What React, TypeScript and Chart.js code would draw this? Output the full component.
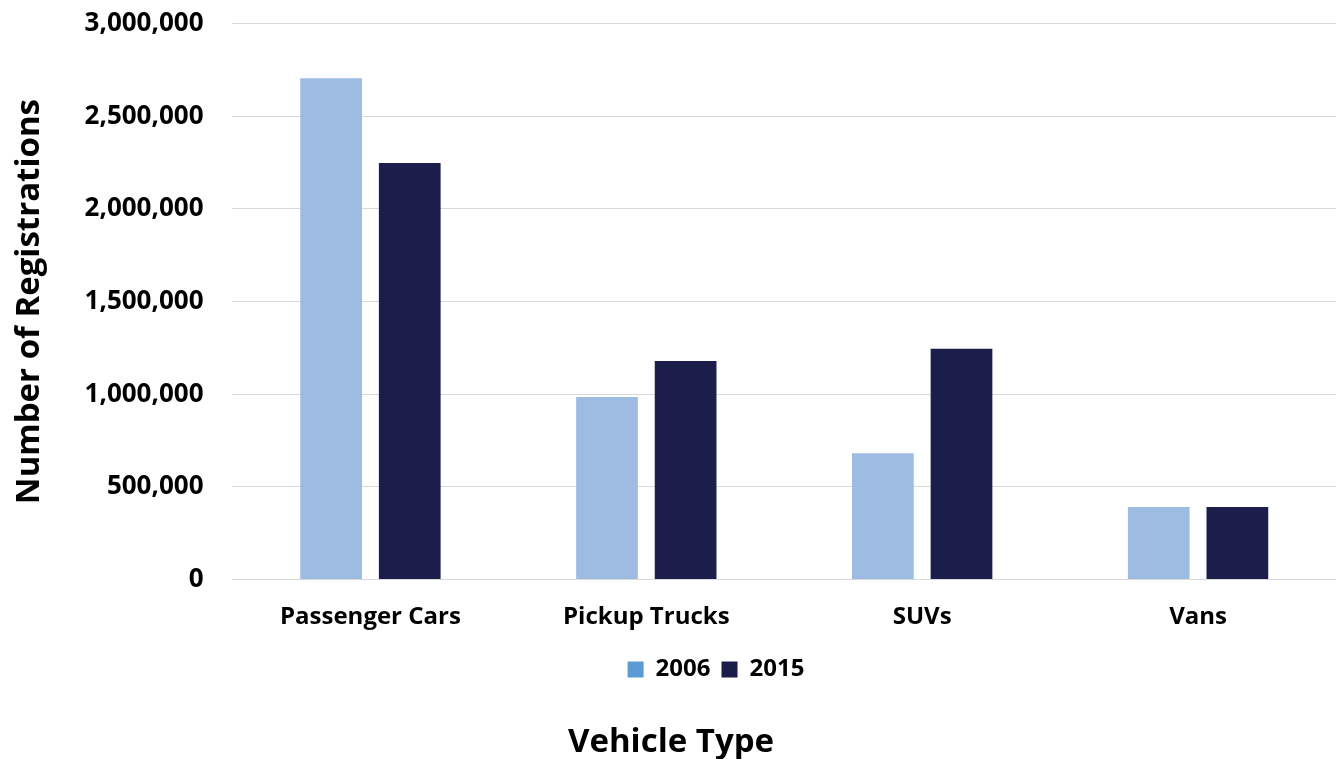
import React, { useEffect, useRef } from "react";
import { Chart, registerables } from "chart.js";

Chart.register(...registerables);

const categories = ["Passenger Cars", "Pickup Trucks", "SUVs", "Vans"];
const series2006 = [2705000, 985000, 682000, 392000];
const series2015 = [2248000, 1180000, 1245000, 392000];
const seriesNames = ["2006", "2015"];
const yTicks = [0, 500000, 1000000, 1500000, 2000000, 2500000, 3000000];

const FONT = "'Open Sans', 'DejaVu Sans', sans-serif";
const BAR_2006 = "#9EBCE2";
const BAR_2015 = "#1B1E4A";
const LEGEND_2006 = "#5B9BD5";

const SHIFT = 21;
const LEGEND_OFFSET_X = 45;

const legendShift = {
  id: "legendShift",
  afterLayout(chart: any) {
    if (chart.legend) {
      chart.legend.left += LEGEND_OFFSET_X;
      chart.legend.right += LEGEND_OFFSET_X;
    }
  },
};

export default function App() {
  const ref = useRef<HTMLCanvasElement | null>(null);
  useEffect(() => {
    if (!ref.current) return;
    const chart = new Chart(ref.current, {
      type: "bar",
      data: {
        labels: categories,
        datasets: [
          { label: seriesNames[0], data: series2006, backgroundColor: BAR_2006, barPercentage: 0.785, categoryPercentage: 0.57 },
          { label: seriesNames[1], data: series2015, backgroundColor: BAR_2015, barPercentage: 0.785, categoryPercentage: 0.57 },
        ],
      },
      plugins: [legendShift],
      options: {
        animation: false,
        responsive: false,
        maintainAspectRatio: false,
        layout: { padding: { top: 0, right: 2, left: 6, bottom: -3 } },
        scales: {
          x: {
            grid: { display: false },
            border: { display: false },
            ticks: { color: "#000", font: { family: FONT, size: 24, weight: "bold" }, padding: 15 },
          },
          y: {
            min: 0,
            max: 3000000,
            afterBuildTicks: (axis: any) => {
              axis.ticks = yTicks.map((v) => ({ value: v }));
            },
            grid: { color: "#D9D9D9", lineWidth: 1, drawTicks: false },
            border: { display: false },
            ticks: {
              color: "#000",
              padding: 29,
              font: { family: FONT, size: 26, weight: "bold" },
              callback: (v: any) => Number(v).toLocaleString("en-US"),
            },
            title: {
              display: true,
              text: "Number of Registrations",
              color: "#000",
              font: { family: FONT, size: 33, weight: "bold" },
              padding: { bottom: 6 },
            },
          },
        },
        plugins: {
          legend: {
            position: "bottom",
            labels: {
              color: "#000",
              font: { family: FONT, size: 24, weight: "bold" },
              boxWidth: 16,
              boxHeight: 16,
              padding: 11,
              generateLabels: (c: any) => {
                const base = Chart.defaults.plugins.legend.labels.generateLabels(c);
                return base.map((l: any, i: number) => ({
                  ...l,
                  fillStyle: i === 0 ? LEGEND_2006 : BAR_2015,
                  strokeStyle: i === 0 ? LEGEND_2006 : BAR_2015,
                  lineWidth: 0,
                }));
              },
            },
          },
          title: {
            display: true,
            position: "bottom",
            text: "Vehicle Type",
            color: "#000",
            font: { family: FONT, size: 33, weight: "bold" },
            padding: { top: 31, bottom: 0 },
          },
          tooltip: { enabled: false },
        },
      },
    });
    return () => chart.destroy();
  }, []);
  return (
    <div style={{ position: "fixed", left: 0, top: 0, width: 1338, height: 759, overflow: "hidden", background: "#fff" }}>
      <canvas
        ref={ref}
        width={1338}
        height={759 + SHIFT}
        style={{ position: "absolute", left: 0, top: -SHIFT, width: 1338, height: 759 + SHIFT }}
      />
    </div>
  );
}
